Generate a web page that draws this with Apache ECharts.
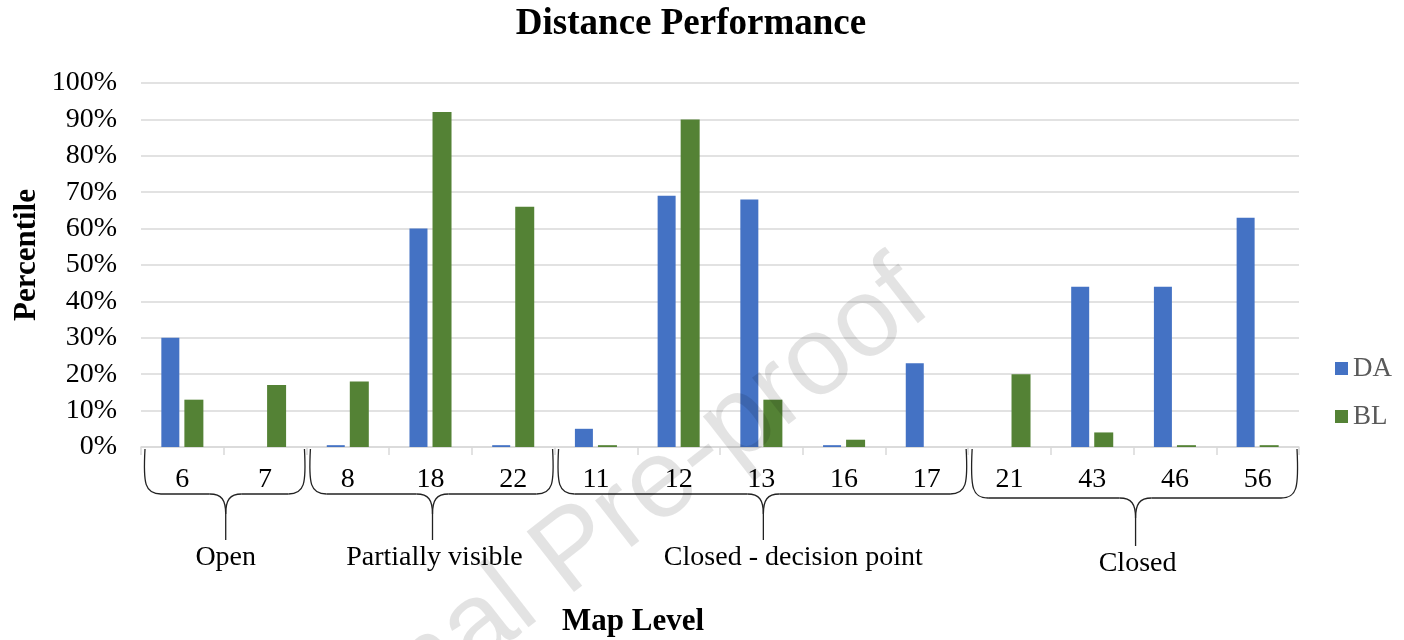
<!DOCTYPE html>
<html>
<head>
<meta charset="utf-8">
<style>
  html, body { margin: 0; height: 100%; background: #fff; }
  #container { width: 1404px; height: 640px; }
</style>
</head>
<body>
<div id="container"></div>
<script src="https://cdn.jsdelivr.net/npm/echarts@6/dist/echarts.min.js"></script>
<script>
// map levels along the x axis, in chart order
var levels = ['6', '7', '8', '18', '22', '11', '12', '13', '16', '17', '21', '43', '46', '56'];
// percentile per level
var daValues = [30, 0, 0.5, 60, 0.5, 5, 69, 68, 0.5, 23, 0, 44, 44, 63];
var blValues = [13, 17, 18, 92, 66, 0.5, 90, 13, 2, 0, 20, 4, 0.5, 0.5];
// brace groups under the axis
var groupNames = ['Open', 'Partially visible', 'Closed - decision point', 'Closed'];
var groupSizes = [2, 3, 5, 4];
var yTicks = [0, 10, 20, 30, 40, 50, 60, 70, 80, 90, 100];

var serif = 'Liberation Serif, Times New Roman, serif';
var chart = echarts.init(document.getElementById('container'), null, { renderer: 'canvas' });

var option = {
  backgroundColor: '#fff',
  animation: false,
  title: {
    text: 'Distance Performance',
    left: 686, top: 1,
    textAlign: 'center',
    textStyle: { fontFamily: serif, fontWeight: 'bold', fontSize: 37, color: '#000' }
  },
  legend: {
    orient: 'vertical',
    left: 1330, top: 350,
    itemWidth: 13, itemHeight: 13, itemGap: 21,
    icon: 'rect',
    textStyle: { fontFamily: serif, fontSize: 27, color: '#595959' },
    data: ['DA', 'BL']
  },
  grid: { left: 141, right: 105, top: 83, bottom: 193 },
  xAxis: {
    type: 'category',
    data: levels,
    axisLine: { lineStyle: { color: '#d9d9d9', width: 1.5 } },
    axisTick: { show: true, length: 8, lineStyle: { color: '#d9d9d9', width: 1.5 } },
    axisLabel: { fontFamily: serif, fontSize: 28, color: '#000', margin: 19, interval: 0 }
  },
  yAxis: {
    type: 'value',
    min: yTicks[0], max: yTicks[yTicks.length - 1], interval: 10,
    axisLine: { show: false },
    axisTick: { show: false },
    splitLine: { lineStyle: { color: '#d9d9d9', width: 1.6 } },
    axisLabel: { fontFamily: serif, fontSize: 28, color: '#000', margin: 24, formatter: '{value}%' }
  },
  series: [
    {
      name: 'DA', type: 'bar', data: daValues,
      barWidth: 18, barGap: '28%',
      itemStyle: { color: '#4472C4' }
    },
    {
      name: 'BL', type: 'bar', data: blValues,
      barWidth: 19, barGap: '28%',
      itemStyle: { color: '#548235' }
    }
  ]
};
chart.setOption(option);

// braces, group labels, axis titles and watermark
function px(i) { return chart.convertToPixel({ xAxisIndex: 0 }, i); }
var step = px(1) - px(0);
var base = chart.convertToPixel({ yAxisIndex: 0 }, 0);
var braceStyle = { stroke: '#222', lineWidth: 1.3, fill: null };
var labelOffsets = [0, 2, 30, 2];
var braceDrop = [0, 0, 0, 4];

var graphics = [];
var start = 0;
groupSizes.forEach(function (n, g) {
  var yTop = base + 2, yMid = base + 47 + braceDrop[g], yTip = base + 93 + braceDrop[g] * 1.5;
  var x1 = px(start) - step / 2 + 4;
  var x2 = px(start + n - 1) + step / 2 - 2;
  var xm = (px(start) + px(start + n - 1)) / 2 + 2;
  var r = 16;
  graphics.push(
    { type: 'bezierCurve', shape: { x1: x1, y1: yTop, cpx1: x1 - 2, cpy1: yMid - 10, cpx2: x1, cpy2: yMid, x2: x1 + r, y2: yMid }, style: braceStyle },
    { type: 'line', shape: { x1: x1 + r, y1: yMid, x2: xm - r, y2: yMid }, style: braceStyle },
    { type: 'bezierCurve', shape: { x1: xm - r, y1: yMid, cpx1: xm - 4, cpy1: yMid, cpx2: xm, cpy2: yMid + 6, x2: xm, y2: yMid + 20 }, style: braceStyle },
    { type: 'bezierCurve', shape: { x1: xm + r, y1: yMid, cpx1: xm + 4, cpy1: yMid, cpx2: xm, cpy2: yMid + 6, x2: xm, y2: yMid + 20 }, style: braceStyle },
    { type: 'line', shape: { x1: xm, y1: yMid + 20, x2: xm, y2: yTip }, style: braceStyle },
    { type: 'line', shape: { x1: xm + r, y1: yMid, x2: x2 - r, y2: yMid }, style: braceStyle },
    { type: 'bezierCurve', shape: { x1: x2, y1: yTop, cpx1: x2 + 2, cpy1: yMid - 10, cpx2: x2, cpy2: yMid, x2: x2 - r, y2: yMid }, style: braceStyle },
    {
      type: 'text', x: xm + labelOffsets[g], y: yTip + 18,
      style: { text: groupNames[g], fontFamily: serif, fontSize: 28, fill: '#000', textAlign: 'center', textVerticalAlign: 'middle' }
    }
  );
  start += n;
});

graphics.push(
  {
    type: 'text', x: 633, y: 622,
    style: { text: 'Map Level', fontFamily: serif, fontSize: 31, fontWeight: 'bold', fill: '#000', textAlign: 'center', textVerticalAlign: 'middle' }
  },
  {
    type: 'text', x: 27, y: 255, rotation: Math.PI / 2,
    style: { text: 'Percentile', fontFamily: serif, fontSize: 31, fontWeight: 'bold', fill: '#000', textAlign: 'center', textVerticalAlign: 'middle' }
  },
  {
    type: 'text', x: 950, y: 330, rotation: 38 * Math.PI / 180, z: 100,
    style: { text: 'Journal Pre-proof', fontFamily: 'Liberation Sans, Arial, sans-serif', fontSize: 112, fill: 'rgba(0,0,0,0.11)', textAlign: 'right', textVerticalAlign: 'bottom' }
  }
);

chart.setOption({ graphic: { elements: graphics } });
window.addEventListener('resize', chart.resize);
</script>
</body>
</html>
